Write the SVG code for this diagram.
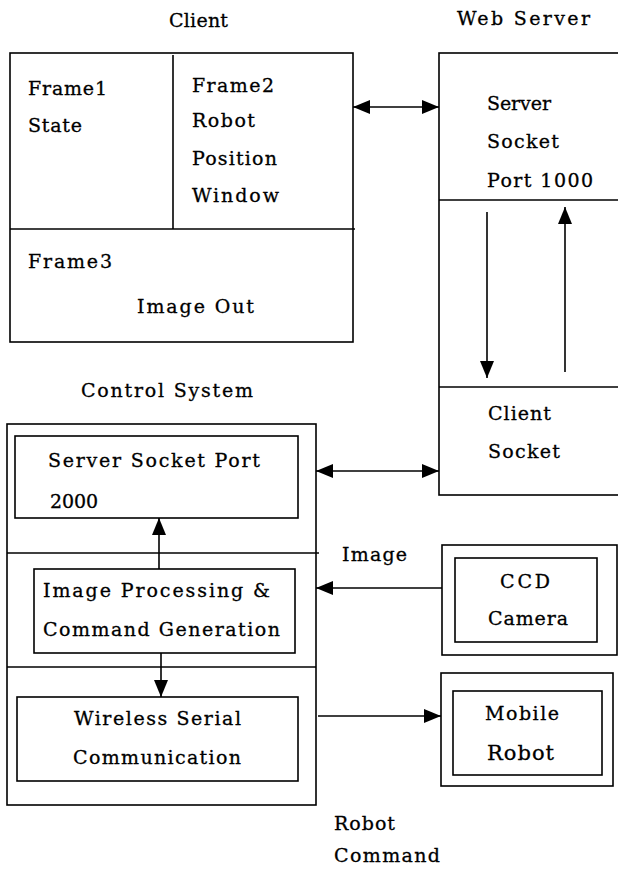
<svg xmlns="http://www.w3.org/2000/svg" width="618" height="872" viewBox="0 0 618 872">
<style>
  .box { fill: none; stroke: #000; stroke-width: 1.6; }
  .ln { fill: none; stroke: #000; stroke-width: 1.6; }
  .con { fill: none; stroke: #000; stroke-width: 1.6; }
  text { font-family: "DejaVu Serif", "Liberation Serif", serif; font-size: 19px; fill: #000; stroke: #000; stroke-width: 0.3; }
</style>
<defs>
  <marker id="ah" markerUnits="userSpaceOnUse" markerWidth="18" markerHeight="14" refX="17" refY="7" orient="auto-start-reverse" viewBox="0 0 18 14">
    <path d="M0,0 L17,7 L0,14 z" fill="#000"/>
  </marker>
</defs>
<rect width="618" height="872" fill="#fff"/>

<g id="client">
  <text x="169" y="27" textLength="59" lengthAdjust="spacing">Client</text>
  <rect class="box" x="10" y="53" width="343" height="289"/>
  <line class="ln" x1="10" y1="229" x2="355" y2="229"/>
  <line class="ln" x1="173" y1="55" x2="173" y2="229"/>
  <text x="28" y="95" textLength="79" lengthAdjust="spacing">Frame1</text>
  <text x="28" y="132" textLength="54" lengthAdjust="spacing">State</text>
  <text x="192" y="92" textLength="82" lengthAdjust="spacing">Frame2</text>
  <text x="192" y="127" textLength="63" lengthAdjust="spacing">Robot</text>
  <text x="192" y="165" textLength="85" lengthAdjust="spacing">Position</text>
  <text x="192" y="202" textLength="87" lengthAdjust="spacing">Window</text>
  <text x="28" y="268" textLength="84" lengthAdjust="spacing">Frame3</text>
  <text x="137" y="313" textLength="117" lengthAdjust="spacing">Image Out</text>
</g>

<g id="webserver">
  <text x="457" y="25" textLength="133" lengthAdjust="spacing">Web Server</text>
  <rect class="box" x="439" y="53" width="190" height="442"/>
  <line class="ln" x1="439" y1="200" x2="618" y2="200"/>
  <line class="ln" x1="439" y1="387" x2="618" y2="387"/>
  <text x="487" y="110" textLength="64" lengthAdjust="spacing">Server</text>
  <text x="487" y="148" textLength="72" lengthAdjust="spacing">Socket</text>
  <text x="487" y="187" textLength="106" lengthAdjust="spacing">Port 1000</text>
  <text x="488" y="420" textLength="63" lengthAdjust="spacing">Client</text>
  <text x="488" y="458" textLength="72" lengthAdjust="spacing">Socket</text>
</g>

<g id="controlsystem">
  <text x="81" y="397" textLength="172" lengthAdjust="spacing">Control System</text>
  <rect class="box" x="7" y="424" width="309" height="381"/>
  <line class="ln" x1="7" y1="553" x2="319" y2="553"/>
  <line class="ln" x1="7" y1="667" x2="316" y2="667"/>
</g>

<g id="serversocket2000">
  <rect class="box" x="15" y="436" width="283" height="82"/>
  <text x="48" y="467" textLength="212" lengthAdjust="spacing">Server Socket Port</text>
  <text x="50" y="508" textLength="48" lengthAdjust="spacing">2000</text>
</g>

<g id="imageprocessing">
  <rect class="box" x="34" y="569" width="261" height="84"/>
  <text x="43" y="597" textLength="227" lengthAdjust="spacing">Image Processing &amp;</text>
  <text x="43" y="636" textLength="237" lengthAdjust="spacing">Command Generation</text>
</g>

<g id="wireless">
  <rect class="box" x="17" y="697" width="281" height="84"/>
  <text x="74" y="725" textLength="167" lengthAdjust="spacing">Wireless Serial</text>
  <text x="73" y="764" textLength="168" lengthAdjust="spacing">Communication</text>
</g>

<g id="ccdcamera">
  <rect class="box" x="442" y="545" width="175" height="110"/>
  <rect class="box" x="455" y="558" width="142" height="84"/>
  <text x="500" y="588" textLength="50" lengthAdjust="spacing">CCD</text>
  <text x="488" y="625" textLength="80" lengthAdjust="spacing">Camera</text>
</g>

<g id="mobilerobot">
  <rect class="box" x="441" y="673" width="172" height="113"/>
  <rect class="box" x="453" y="691" width="149" height="84"/>
  <text x="485" y="720" textLength="74" lengthAdjust="spacing">Mobile</text>
  <text x="487" y="760" textLength="67" lengthAdjust="spacing" style="font-size:21px">Robot</text>
</g>

<g id="connectors">
  <line class="con" x1="353" y1="107" x2="439" y2="107" marker-start="url(#ah)" marker-end="url(#ah)"/>
  <line class="con" x1="487" y1="212" x2="487" y2="378" marker-end="url(#ah)"/>
  <line class="con" x1="565" y1="372" x2="565" y2="207" marker-end="url(#ah)"/>
  <line class="con" x1="316" y1="471" x2="439" y2="471" marker-start="url(#ah)" marker-end="url(#ah)"/>
  <line class="con" x1="159" y1="569" x2="159" y2="518" marker-end="url(#ah)"/>
  <line class="con" x1="161" y1="653" x2="161" y2="697" marker-end="url(#ah)"/>
  <line class="con" x1="442" y1="588" x2="316" y2="588" marker-end="url(#ah)"/>
  <line class="con" x1="318" y1="716" x2="441" y2="716" marker-end="url(#ah)"/>
  <text x="342" y="561" textLength="65" lengthAdjust="spacing">Image</text>
  <text x="334" y="830" textLength="61" lengthAdjust="spacing">Robot</text>
  <text x="334" y="862" textLength="106" lengthAdjust="spacing">Command</text>
</g>
</svg>
